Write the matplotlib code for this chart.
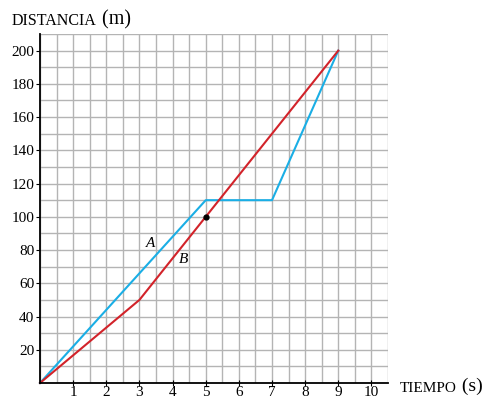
import matplotlib

matplotlib.use("Agg")
import matplotlib.pyplot as plt
from matplotlib.ticker import MultipleLocator

plt.rcParams["font.family"] = ["Liberation Serif", "DejaVu Serif"]

# movil A (azul) y movil B (rojo)
t_a = [0, 5, 7, 9]
d_a = [0, 110, 110, 200]
t_b = [0, 3, 9]
d_b = [0, 50, 200]
punto = (5, 100)

x_ticks = list(range(1, 11))
y_ticks = list(range(20, 201, 20))

fig = plt.figure(figsize=(4.94, 3.99), dpi=100)
ax = fig.add_axes([40 / 494, 16 / 399, 348 / 494, 349 / 399])

ax.set_xlim(0, 10.5)
ax.set_ylim(0, 210)
ax.xaxis.set_minor_locator(MultipleLocator(0.5))
ax.yaxis.set_minor_locator(MultipleLocator(10))
ax.set_xticks(x_ticks)
ax.set_yticks(y_ticks)
ax.grid(which="both", color="#b4b4b4", linewidth=1.0)
ax.set_axisbelow(True)

for side in ("top", "right"):
    ax.spines[side].set_visible(False)
for side in ("left", "bottom"):
    ax.spines[side].set_linewidth(1.3)
ax.tick_params(which="minor", length=0)
ax.tick_params(axis="y", which="major", direction="out", length=3, labelsize=11, pad=1)
ax.tick_params(axis="x", which="major", direction="inout", length=5, labelsize=11, pad=0)

ax.plot(t_a, d_a, color="#1aaee5", linewidth=1.5, clip_on=False)
ax.plot(t_b, d_b, color="#d2232a", linewidth=1.5, clip_on=False)
ax.plot(*punto, "o", color="black", markersize=3.5)

ax.text(3.2, 82, "A", style="italic", fontsize=11)
ax.text(4.2, 72, "B", style="italic", fontsize=11)

# etiquetas de ejes en versalitas
t1 = fig.text(12 / 494, 1 - 25 / 399, "DISTANCIA", fontsize=11.5)
ax.annotate(" (m)", xy=(1, 0), xycoords=t1, fontsize=14.5, va="bottom")
t2 = fig.text(400 / 494, 1 - 392 / 399, "TIEMPO", fontsize=11)
ax.annotate(" (s)", xy=(1, 0), xycoords=t2, fontsize=14, va="bottom")

fig.savefig("out.png", dpi=100)
plt.close(fig)
